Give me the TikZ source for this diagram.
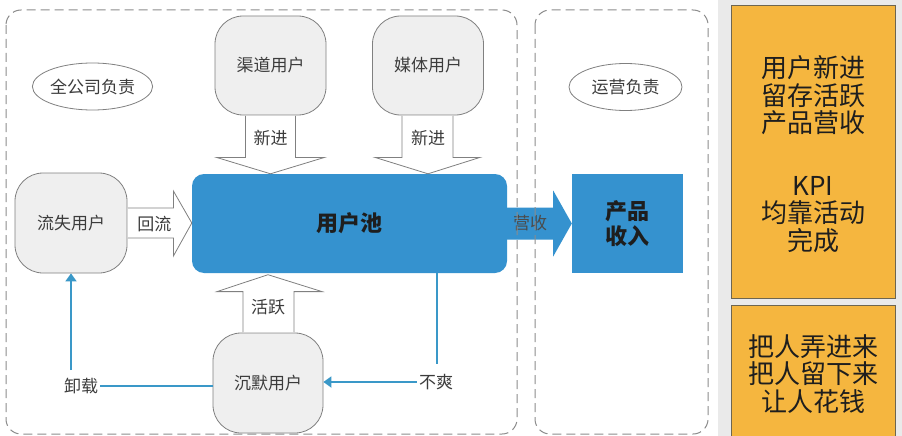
\documentclass[tikz,border=0pt]{standalone}
\usepackage{fontspec}
\setmainfont{Noto Sans CJK SC}
\usetikzlibrary{calc,shapes.geometric,arrows.meta}
\definecolor{poolblue}{HTML}{3592CF}
\definecolor{lineblue}{HTML}{3A98C8}
\definecolor{boxfill}{HTML}{EFEFEF}
\definecolor{boxline}{HTML}{808080}
\definecolor{labeltext}{HTML}{3C3C3C}
\definecolor{darktext}{HTML}{1E1E1E}
\definecolor{panelgray}{HTML}{EAEAEA}
\definecolor{kpiorange}{HTML}{F5B63F}
\definecolor{kpiline}{HTML}{6E6650}
\definecolor{dashgray}{HTML}{8C8C8C}
\begin{document}
\begin{tikzpicture}[x=1pt,y=-1pt,
  graybox/.style={draw=boxline, fill=boxfill, line width=0.8pt, rounded corners=28pt,
    minimum width=111pt, minimum height=99pt, inner sep=0pt,
    font=\fontsize{17}{20}\selectfont, text=labeltext},
  lbl/.style={font=\fontsize{17}{20}\selectfont, text=labeltext, inner sep=2pt},
  ovalbox/.style={ellipse, draw=boxline, line width=0.8pt, fill=white,
    minimum width=113pt, minimum height=47pt, inner sep=0pt,
    font=\fontsize{17}{20}\selectfont, text=labeltext},
  hollow/.style={draw=boxline, fill=white, line width=0.8pt, line join=miter},
  blueline/.style={draw=lineblue, line width=1.8pt},
  bluetip/.style={-{Triangle[length=8pt,width=11pt]}},
  region/.style={draw=dashgray, line width=1pt, dash pattern=on 9pt off 5pt, rounded corners=15pt},
  kpibox/.style={draw=kpiline, fill=kpiorange, line width=0.8pt},
  kpitext/.style={font=\fontsize{26}{27.5}\selectfont, text=darktext, align=center, inner sep=0pt}
]
\useasboundingbox (0,0) rectangle (902,436);
\fill[white] (0,0) rectangle (718,436);
\fill[panelgray] (718,0) rectangle (902,436);

% right panel
\draw[kpibox] (731,5) rectangle (895,298);
\draw[kpibox] (731,305) rectangle (895,440);
\node[kpitext] (kpia) at (813,154) {用户新进\\留存活跃\\产品营收\\[35pt]KPI\\均靠活动\\完成};
\node[kpitext] (kpib) at (813,374) {把人弄进来\\把人留下来\\让人花钱};

% ovals
\node[ovalbox] (e1) at (92.5,86.5) {全公司负责};
\node[ovalbox] (e2) at (625.5,87) {运营负责};

% main nodes
\node[graybox] (ch) at (270.5,65.5) {渠道用户};
\node[graybox] (md) at (428,65.5) {媒体用户};
\node[graybox, minimum width=112pt, minimum height=100pt] (ls) at (71,223) {流失用户};
\node[graybox, minimum width=110pt, minimum height=100pt] (sm) at (268,383) {沉默用户};
\node[draw=none, fill=poolblue, rounded corners=12pt, minimum width=315pt, minimum height=99pt,
  font=\fontsize{22}{24}\selectfont\bfseries, text=darktext] (pool) at (349.5,223.5) {用户池};
\node[fill=poolblue, minimum width=111pt, minimum height=99pt, align=center,
  font=\fontsize{22}{25}\selectfont\bfseries, text=darktext] (prod) at (627.5,223.5) {产品\\收入};

% hollow arrows: 新进 (channel)
\filldraw[hollow] ($(ch.south)+(-25,0.4)$) -- ($(ch.south)+(-25,42)$) -- ($(ch.south)+(-54,42)$)
  -- (ch.south |- pool.north) -- ($(ch.south)+(54,42)$) -- ($(ch.south)+(25,42)$) -- ($(ch.south)+(25,0.4)$);
\node[lbl] (xj1) at ($(ch.south)+(0,23)$) {新进};
% 新进 (media)
\filldraw[hollow] ($(md.south)+(-26,0.4)$) -- ($(md.south)+(-26,42)$) -- ($(md.south)+(-53,42)$)
  -- (md.south |- pool.north) -- ($(md.south)+(52,42)$) -- ($(md.south)+(25,42)$) -- ($(md.south)+(25,0.4)$);
\node[lbl] (xj2) at ($(md.south)+(0,23)$) {新进};
% 回流
\filldraw[hollow] ($(ls.east)+(0.4,-15)$) -- ($(ls.east)+(46,-15)$) -- ($(ls.east)+(46,-32)$)
  -- (ls.east -| pool.west) -- ($(ls.east)+(46,33)$) -- ($(ls.east)+(46,15)$) -- ($(ls.east)+(0.4,15)$);
\node[lbl] (hl) at ($(ls.east)+(27,1)$) {回流};
% 活跃
\filldraw[hollow] ($(sm.north)+(-25,-0.4)$) -- ($(sm.north)+(-25,-41)$) -- ($(sm.north)+(-51,-41)$)
  -- ($(sm.north |- pool.south)+(0,1.5)$) -- ($(sm.north)+(54,-41)$) -- ($(sm.north)+(26,-41)$) -- ($(sm.north)+(26,-0.4)$);
\node[lbl] (hy) at ($(sm.north)+(0,-25)$) {活跃};

% 营收 arrow
\fill[poolblue] ($(pool.east)+(-1,-16)$) -- ($(pool.east)+(46,-16)$) -- ($(pool.east)+(46,-33)$)
  -- (pool.east -| prod.west) -- ($(pool.east)+(46,33)$) -- ($(pool.east)+(46,16)$) -- ($(pool.east)+(-1,16)$) -- cycle;
\node[font=\fontsize{17}{20}\selectfont, text=darktext!80] (ys) at ($(pool.east)+(23,0)$) {营收};

% blue connectors
\node[lbl] (bs) at (436,382) {不爽};
\node[lbl] (xz) at (81,386) {卸载};
\draw[blueline] (pool.south -| 437,0) -- (437,364);
\draw[blueline, bluetip] (bs.west) -- (sm.east |- bs.west);
\draw[blueline] (sm.west |- xz.east) -- (xz.east);
\draw[blueline, bluetip] (71,370) -- (ls.south);

% dashed regions
\draw[region] (6,10) rectangle (517,434);
\draw[region] (535,10) rectangle (708,434);
\end{tikzpicture}
\end{document}
